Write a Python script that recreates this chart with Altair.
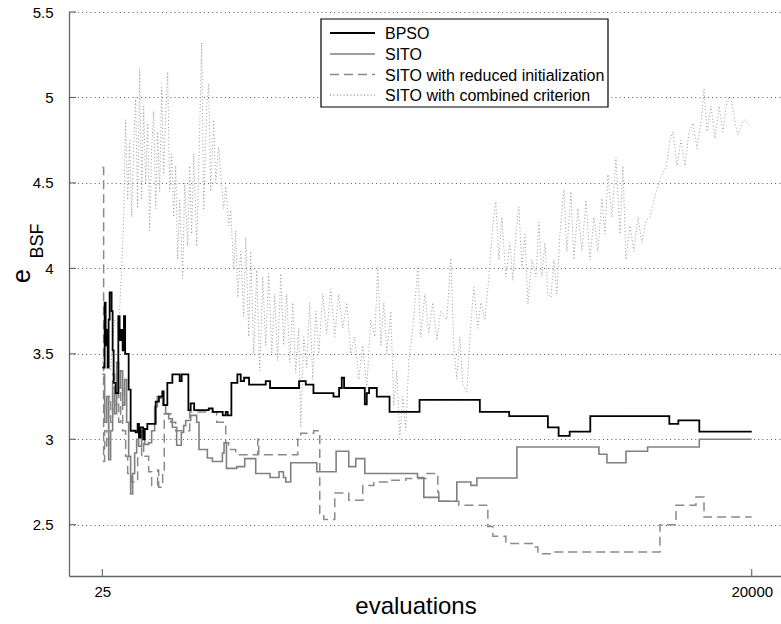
import altair as alt
import pandas as pd

# ---------------- data ----------------
names = ["BPSO", "SITO", "SITO with reduced initialization", "SITO with combined criterion"]

bpso_x = [25, 96, 127, 158, 188, 219, 250, 311, 342, 373, 435, 517, 557, 604, 650, 690, 727, 773,
          835, 896, 1050, 1112, 1152, 1204, 1281, 1327, 1410, 1666, 1767, 1870, 1912, 2025, 2179,
          2404, 2466, 2672, 2743, 2850, 3297, 3420, 3728, 3820, 3882, 3995, 4179, 4282, 4385, 4538,
          5051, 5184, 6077, 6282, 6519, 7134, 7308, 7390, 7461, 8098, 8159, 8231, 8467, 8859, 9782,
          11637, 12540, 13730, 14060, 14400, 15034, 17465, 17742, 18387, 20000]
bpso_y = [3.42, 3.80, 3.55, 3.64, 3.42, 3.70, 3.86, 3.75, 3.52, 3.33, 3.27, 3.72, 3.58, 3.64, 3.52,
          3.72, 3.50, 3.50, 3.29, 3.05, 3.04, 3.09, 3.01, 3.07, 3.00, 3.06, 3.09, 3.22, 3.25, 3.28,
          3.20, 3.33, 3.38, 3.34, 3.38, 3.17, 3.21, 3.17, 3.18, 3.16, 3.14, 3.16, 3.14, 3.33, 3.38,
          3.34, 3.36, 3.32, 3.34, 3.30, 3.34, 3.32, 3.27, 3.25, 3.30, 3.36, 3.30, 3.205, 3.27, 3.30,
          3.25, 3.16, 3.23, 3.16, 3.136, 3.07, 3.02, 3.045, 3.136, 3.09, 3.11, 3.045, 3.045]

sito_x = [25, 96, 158, 219, 280, 342, 404, 465, 527, 588, 650, 712, 773, 835, 896, 958, 1019, 1081,
          1142, 1235, 1327, 1450, 1542, 1635, 1716, 1819, 1881, 1973, 2066, 2179, 2312, 2455, 2527,
          2589, 2743, 2927, 2999, 3256, 3410, 3718, 3769, 3843, 4159, 4405, 4743, 5184, 5461, 5595,
          5667, 5820, 6621, 7216, 7605, 7821, 8098, 9719, 9914, 10375, 10929, 11360, 11545, 12776,
          15300, 15546, 16131, 16797, 18387, 20000]
sito_y = [3.38, 3.10, 3.25, 2.88, 3.05, 3.30, 3.15, 3.45, 3.30, 3.40, 3.20, 3.35, 3.10, 2.90, 2.68,
          2.80, 2.92, 3.00, 2.96, 3.05, 2.97, 2.98, 3.05, 3.19, 3.25, 3.24, 3.20, 3.15, 3.12, 3.07,
          2.965, 3.04, 3.08, 3.11, 3.14, 3.10, 2.94, 2.89, 2.87, 2.92, 2.98, 2.83, 2.84, 2.887, 2.80,
          2.776, 2.81, 2.776, 2.75, 2.863, 2.81, 2.93, 2.84, 2.887, 2.80, 2.776, 2.66, 2.637, 2.75,
          2.73, 2.773, 2.955, 2.912, 2.863, 2.93, 2.955, 3.00, 3.00]

reduced_x = [25, 65, 96, 158, 219, 280, 342, 404, 465, 527, 588, 650, 742, 804, 927, 1112, 1235,
             1296, 1450, 1542, 1727, 1758, 1881, 1930, 2127, 2281, 2712, 3543, 3820, 3912, 4128,
             4805, 4836, 6036, 6128, 6528, 6713, 6836, 7174, 7605, 8036, 8375, 8867, 9360, 9975,
             10344, 10375, 10990, 11883, 12037, 12437, 13299, 13422, 13884, 17177, 17670, 18285,
             18532, 20000]
reduced_y = [4.59, 2.87, 3.05, 2.95, 3.25, 3.10, 3.38, 3.20, 3.30, 3.10, 3.30, 3.05, 2.90, 2.80,
             2.75, 2.90, 2.975, 2.90, 2.81, 2.73, 2.82, 2.72, 2.82, 3.15, 3.10, 3.05, 3.16, 3.10,
             2.98, 2.94, 2.91, 3.00, 2.91, 3.00, 3.035, 3.05, 2.565, 2.53, 2.686, 2.643, 2.73, 2.75,
             2.76, 2.77, 2.80, 2.69, 2.637, 2.614, 2.49, 2.432, 2.39, 2.37, 2.33, 2.34, 2.50, 2.614,
             2.662, 2.545, 2.545]

combined_x = [25, 158, 280, 404, 527, 619, 681, 742, 804, 865, 927, 989, 1050, 1112, 1173, 1235,
              1296, 1358, 1419, 1481, 1542, 1604, 1666, 1727, 1789, 1850, 1912, 1973, 2035, 2096,
              2158, 2219, 2281, 2342, 2404, 2496, 2558, 2650, 2712, 2773, 2835, 2927, 2989, 3081,
              3143, 3235, 3297, 3358, 3451, 3512, 3605, 3666, 3759, 3820, 3912, 3974, 4066, 4128,
              4189, 4282, 4374, 4435, 4528, 4589, 4682, 4774, 4866, 4959, 5051, 5143, 5236, 5328,
              5420, 5513, 5605, 5697, 5790, 5882, 5974, 6067, 6128, 6221, 6313, 6405, 6498, 6590,
              6682, 6805, 6928, 7051, 7174, 7297, 7420, 7544, 7667, 7790, 7913, 8036, 8159, 8282,
              8405, 8498, 8590, 8683, 8775, 8898, 8990, 9083, 9175, 9267, 9360, 9452, 9575, 9729,
              9821, 9944, 10067, 10190, 10313, 10436, 10621, 10744, 10837, 10929, 11021, 11113,
              11237, 11329, 11452, 11575, 11668, 11791, 11914, 12037, 12130, 12222, 12314, 12437,
              12560, 12653, 12745, 12838, 12930, 13022, 13115, 13238, 13361, 13453, 13546, 13638,
              13730, 13823, 13915, 14007, 14100, 14223, 14315, 14438, 14530, 14653, 14777, 14900,
              15023, 15146, 15269, 15392, 15485, 15577, 15700, 15823, 15946, 16038, 16131, 16254,
              16377, 16500, 16623, 16746, 16869, 16992, 17116, 17239, 17362, 17485, 17577, 17700,
              17824, 17947, 18070, 18193, 18316, 18439, 18532, 18624, 18747, 18870, 18993, 19116,
              19240, 19363, 19486, 19578, 19701, 19794, 19917]
combined_y = [3.45, 3.65, 3.40, 3.70, 3.64, 4.00, 4.30, 4.87, 4.40, 4.75, 4.30, 4.70, 5.00, 4.35,
              5.17, 4.40, 4.95, 4.50, 4.85, 4.22, 4.70, 4.92, 4.35, 4.80, 4.45, 5.06, 4.55, 4.90,
              5.15, 4.45, 4.67, 4.30, 4.60, 4.05, 4.40, 3.94, 4.50, 4.13, 4.60, 4.20, 4.67, 4.13,
              4.55, 5.32, 4.34, 4.95, 5.08, 4.45, 4.87, 4.50, 4.71, 4.55, 4.35, 4.48, 4.25, 4.34,
              4.00, 4.22, 3.83, 4.10, 3.72, 4.18, 3.60, 4.10, 3.50, 3.99, 3.40, 3.95, 3.55, 3.97,
              3.50, 3.85, 3.46, 3.97, 3.55, 3.85, 3.45, 3.80, 3.39, 3.65, 3.07, 3.60, 3.42, 3.80,
              3.35, 3.75, 3.50, 3.85, 3.62, 3.88, 3.60, 3.85, 3.65, 3.80, 3.50, 3.60, 3.35, 3.55,
              3.30, 3.70, 3.60, 4.01, 3.55, 3.80, 3.50, 3.75, 3.20, 3.40, 3.01, 3.25, 3.05, 3.46,
              3.65, 4.01, 3.60, 3.85, 3.62, 3.80, 3.58, 3.75, 3.70, 4.06, 3.55, 3.35, 3.60, 3.32,
              3.27, 3.60, 3.89, 3.65, 3.80, 3.70, 3.95, 4.25, 4.39, 4.05, 4.30, 3.95, 4.15, 3.93,
              4.20, 4.36, 4.00, 4.20, 3.79, 4.05, 3.95, 4.27, 3.95, 4.15, 3.85, 3.83, 4.05, 3.85,
              4.20, 4.46, 4.10, 4.45, 4.05, 4.35, 4.10, 4.40, 4.05, 4.30, 4.10, 4.41, 4.20, 4.55,
              4.30, 4.65, 4.20, 4.60, 4.05, 4.25, 4.10, 4.30, 4.15, 4.28, 4.30, 4.40, 4.48, 4.55,
              4.59, 4.75, 4.80, 4.60, 4.75, 4.60, 4.80, 4.85, 4.70, 4.85, 5.05, 4.80, 4.95, 4.76,
              4.95, 4.80, 4.99, 5.00, 4.85, 4.78, 4.85, 4.87, 4.84]

x_ticks = [25, 20000]
y_ticks = [2.5, 3, 3.5, 4, 4.5, 5, 5.5]
x_title = "evaluations"

# ---------------- styling ----------------
FONT = "Liberation Sans"
W, H = 712, 564
x_scale = alt.Scale(domain=[-1000, 20900], nice=False, zero=False)
y_scale = alt.Scale(domain=[2.2, 5.5], nice=False, zero=False)

x_axis = alt.Axis(values=x_ticks, format="d", title=None, grid=False, tickSize=0,
                  labelPadding=8, labelFontSize=15, labelFont=FONT, labelColor="black",
                  domainColor="#666666", domainWidth=1.3, labelFlush=False)
y_axis = alt.Axis(values=y_ticks, format="~g", title=None, grid=True, gridColor="#444444",
                  gridDash=[1, 3.2], gridWidth=0.9, tickSize=0, labelPadding=16,
                  labelFontSize=15, labelFont=FONT, labelColor="black",
                  domainColor="#666666", domainWidth=1.3)


def line_layer(xs, ys, color, width, dash, interp):
    df = pd.DataFrame({"x": xs, "y": ys, "i": list(range(len(xs)))})
    return alt.Chart(df).mark_line(color=color, strokeWidth=width, strokeDash=dash,
                                   interpolate=interp, clip=True).encode(
        x=alt.X("x:Q", scale=x_scale, axis=x_axis),
        y=alt.Y("y:Q", scale=y_scale, axis=y_axis),
        order="i:Q",
    )


styles = [
    ("black", 1.8, [1, 0]),
    ("#808080", 1.6, [1, 0]),
    ("#8a8a8a", 1.5, [9, 5]),
    ("#9a9a9a", 1.0, [1, 2.4]),
]

layers = [
    line_layer(combined_x, combined_y, styles[3][0], styles[3][1], styles[3][2], "linear"),
    line_layer(reduced_x, reduced_y, styles[2][0], styles[2][1], styles[2][2], "step-after"),
    line_layer(sito_x, sito_y, styles[1][0], styles[1][1], styles[1][2], "step-after"),
    line_layer(bpso_x, bpso_y, styles[0][0], styles[0][1], styles[0][2], "step-after"),
]

# inward tick marks
xt = alt.Chart(pd.DataFrame({"x": x_ticks})).mark_rule(color="#555555", strokeWidth=1).encode(
    x=alt.X("x:Q", scale=x_scale, axis=x_axis), y=alt.value(H), y2=alt.value(H - 7))
yt = alt.Chart(pd.DataFrame({"y": y_ticks})).mark_rule(color="#555555", strokeWidth=1).encode(
    y=alt.Y("y:Q", scale=y_scale, axis=y_axis), x=alt.value(0), x2=alt.value(7))
layers += [xt, yt]

# legend box
one = pd.DataFrame({"k": [0]})
layers.append(alt.Chart(one).mark_rect(fill="white", stroke="black", strokeWidth=1.2).encode(
    x=alt.value(252), x2=alt.value(539), y=alt.value(7), y2=alt.value(95)))
row_y = [21, 42, 62.5, 83]
for k, name in enumerate(names):
    color, width, dash = styles[k]
    d = pd.DataFrame({"label": [name]})
    layers.append(alt.Chart(d).mark_rule(color=color, strokeWidth=width + (0.3 if k == 3 else 0),
                                         strokeDash=dash).encode(
        x=alt.value(261), x2=alt.value(306), y=alt.value(row_y[k])))
    layers.append(alt.Chart(d).mark_text(align="left", baseline="middle", font=FONT,
                                         fontSize=16, color="black").encode(
        x=alt.value(316), y=alt.value(row_y[k] + 1), text="label:N"))

# axis titles
layers.append(alt.Chart(pd.DataFrame({"t": [x_title]})).mark_text(
    align="center", baseline="alphabetic", font=FONT, fontSize=24, color="black").encode(
    x=alt.value(347), y=alt.value(602), text="t:N"))
layers.append(alt.Chart(pd.DataFrame({"t": ["e"]})).mark_text(
    align="center", baseline="alphabetic", font=FONT, fontSize=25, angle=270, color="black").encode(
    x=alt.value(-39), y=alt.value(264), text="t:N"))
layers.append(alt.Chart(pd.DataFrame({"t": ["BSF"]})).mark_text(
    align="center", baseline="alphabetic", font=FONT, fontSize=18, angle=270, color="black").encode(
    x=alt.value(-26), y=alt.value(229), text="t:N"))

chart = alt.layer(*layers).properties(
    width=W, height=H,
    padding={"left": 69, "top": 12, "right": 0, "bottom": 48},
    autosize=alt.AutoSizeParams(type="none"),
).configure_view(stroke=None)

chart.save("out.html", embed_options={"renderer": "svg", "actions": False})
